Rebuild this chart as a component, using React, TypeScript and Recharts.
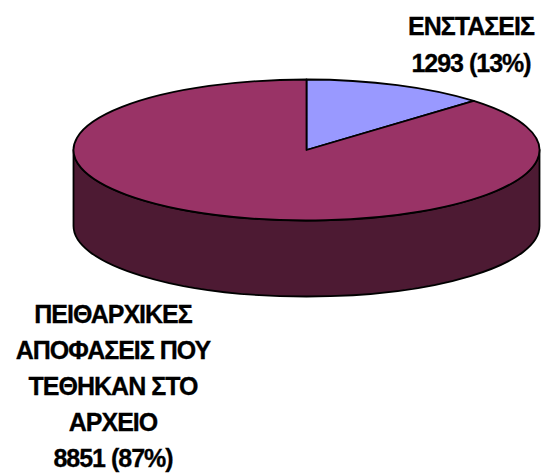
import React from "react";
import { PieChart, Pie, Cell } from "recharts";

const categories = ["ΕΝΣΤΑΣΕΙΣ", "ΠΕΙΘΑΡΧΙΚΕΣ ΑΠΟΦΑΣΕΙΣ ΠΟΥ ΤΕΘΗΚΑΝ ΣΤΟ ΑΡΧΕΙΟ"];
const values = [1293, 8851];
const colors = ["#9999FF", "#993366"];
const sideColor = "#4D1A33";
const labelLines = [
  ["ΕΝΣΤΑΣΕΙΣ", "1293 (13%)"],
  ["ΠΕΙΘΑΡΧΙΚΕΣ", "ΑΠΟΦΑΣΕΙΣ ΠΟΥ", "ΤΕΘΗΚΑΝ ΣΤΟ", "ΑΡΧΕΙΟ", "8851 (87%)"],
];
const labelAnchors = [
  { x: 471, y: 35, dy: 37 },
  { x: 113, y: 323, dy: 36 },
];

const data = categories.map((name, i) => ({ name, value: values[i] }));

const RATIO = 70.5 / 233;
const DEPTH = 76;
const RAD = Math.PI / 180;

function pt(cx: number, cy: number, r: number, deg: number) {
  return { x: cx + r * Math.cos(deg * RAD), y: cy - r * RATIO * Math.sin(deg * RAD) };
}

function EllipticSector(props: any) {
  const { cx, cy, outerRadius: r, startAngle, endAngle, fill } = props;
  const a = pt(cx, cy, r, startAngle);
  const b = pt(cx, cy, r, endAngle);
  const ry = r * RATIO;
  const sweep = Math.abs(endAngle - startAngle);
  const large = sweep > 180 ? 1 : 0;
  const top = `M${cx},${cy} L${a.x},${a.y} A${r},${ry} 0 ${large} 1 ${b.x},${b.y} Z`;
  // The wall is visible where the rim faces the viewer (angles 0 to -180).
  const from = startAngle >= 0 && endAngle <= 0 ? 0 : startAngle;
  const to = Math.max(endAngle, -180);
  let wall = null;
  if (from <= 0 && from > to) {
    const p = pt(cx, cy, r, from);
    const q = pt(cx, cy, r, to);
    wall = (
      <path
        d={`M${p.x},${p.y} A${r},${ry} 0 0 1 ${q.x},${q.y} L${q.x},${q.y + DEPTH} A${r},${ry} 0 0 0 ${p.x},${p.y + DEPTH} Z`}
        fill={sideColor}
        stroke="#000"
        strokeWidth={1.8}
        strokeLinejoin="round"
      />
    );
  }
  return (
    <g>
      {wall}
      <path d={top} fill={fill} stroke="#000" strokeWidth={1.8} strokeLinejoin="round" />
    </g>
  );
}

function SliceLabel(props: any) {
  const { index } = props;
  const lines = labelLines[index];
  const anchor = labelAnchors[index];
  return (
    <text
      textAnchor="middle"
      fontFamily="'Liberation Sans', Arial, sans-serif"
      fontWeight="bold"
      fontSize={25}
      letterSpacing={-1}
      fill="#000"
      stroke="#000"
      strokeWidth={0.3}
    >
      {lines.map((line, i) => (
        <tspan key={i} x={anchor.x} y={anchor.y + i * anchor.dy}>
          {line}
        </tspan>
      ))}
    </text>
  );
}

export default function App() {
  return (
    <div style={{ position: "absolute", left: 0, top: 0, width: 542, height: 474 }}>
      <PieChart width={542} height={474} margin={{ top: 0, right: 0, bottom: 0, left: 0 }}>
        <Pie
          data={data}
          dataKey="value"
          nameKey="name"
          cx={306.5}
          cy={150}
          innerRadius={0}
          outerRadius={233}
          startAngle={90}
          endAngle={-270}
          paddingAngle={0}
          isAnimationActive={false}
          shape={EllipticSector}
          label={SliceLabel}
          labelLine={false}
        >
          {data.map((d, i) => (
            <Cell key={d.name} fill={colors[i]} />
          ))}
        </Pie>
      </PieChart>
    </div>
  );
}
